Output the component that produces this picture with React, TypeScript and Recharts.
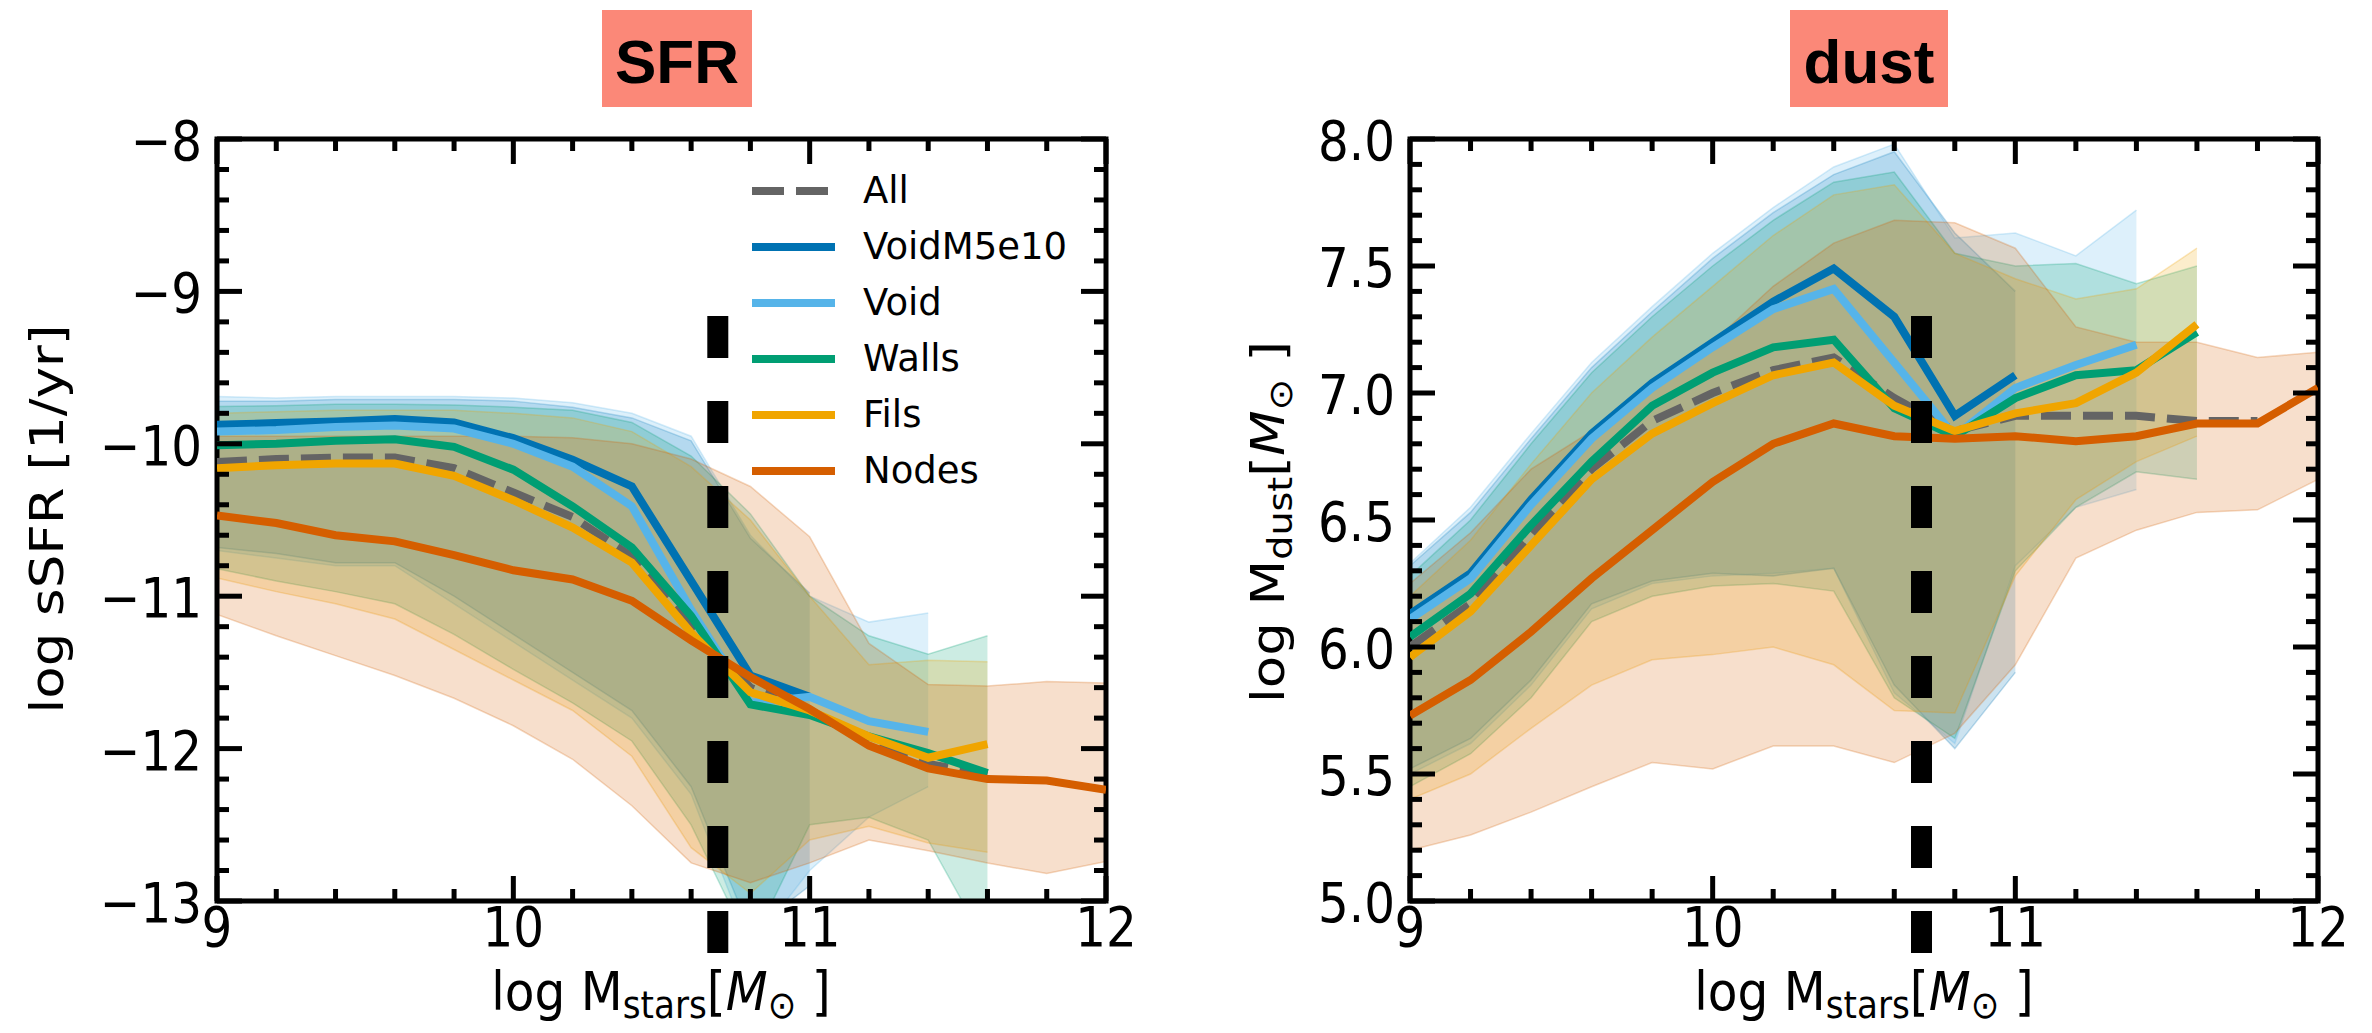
import { ComposedChart, Area, Line, XAxis, YAxis, ReferenceLine, ReferenceArea } from 'recharts';

// stellar mass bins, log M_stars
const massBins = [9.0, 9.2, 9.4, 9.6, 9.8, 10.0, 10.2, 10.4, 10.6, 10.8, 11.0, 11.2, 11.4, 11.6, 11.8, 12.0];
const massMajors = [9, 10, 11, 12];
const massLabels = ['9', '10', '11', '12'];
const massCut = 10.69; // log(5e10)

const seriesNames = ['All', 'VoidM5e10', 'Void', 'Walls', 'Fils', 'Nodes'];
const seriesKeys = ['all', 'voidM', 'void', 'walls', 'fils', 'nodes'];
const seriesColors = ['#646464', '#0072B2', '#56B4E9', '#009E73', '#F0A500', '#D55E00'];

// --- sSFR panel, medians
const sfrAll = [-10.12, -10.1, -10.09, -10.09, -10.16, -10.32, -10.48, -10.74, -11.2, -11.6, -11.75, -11.95, -12.1, -12.17, null, null];
const sfrVoidM = [-9.875, -9.864, -9.853, -9.838, -9.86, -9.963, -10.105, -10.28, -10.9, -11.52, -11.66, null, null, null, null, null];
const sfrVoid = [-9.92, -9.91, -9.89, -9.88, -9.9, -10.0, -10.15, -10.41, -11.09, -11.7, -11.66, -11.82, -11.89, null, null, null];
const sfrWalls = [-10.01, -10.0, -9.98, -9.97, -10.02, -10.17, -10.41, -10.68, -11.13, -11.71, -11.78, -11.92, -12.03, -12.16, null, null];
const sfrFils = [-10.16, -10.14, -10.13, -10.13, -10.21, -10.37, -10.55, -10.78, -11.24, -11.63, -11.75, -11.92, -12.06, -11.97, null, null];
const sfrNodes = [-10.47, -10.52, -10.6, -10.64, -10.73, -10.83, -10.89, -11.03, -11.29, -11.53, -11.74, -11.98, -12.13, -12.2, -12.21, -12.27];

// sSFR panel, spread (low / high)
const sfrVoidMLo = [-10.68, -10.72, -10.78, -10.78, -11.0, -11.25, -11.5, -11.75, -12.25, -13.2, -12.9, null, null, null, null, null];
const sfrVoidMHi = [-9.72, -9.72, -9.71, -9.71, -9.71, -9.72, -9.76, -9.83, -9.98, -10.62, -10.98, null, null, null, null, null];
const sfrVoidLo = [-10.7, -10.75, -10.8, -10.8, -11.05, -11.3, -11.55, -11.8, -12.3, -13.3, -12.8, -12.45, -12.25, null, null, null];
const sfrVoidHi = [-9.69, -9.7, -9.69, -9.69, -9.69, -9.7, -9.73, -9.8, -9.95, -10.6, -11.0, -11.17, -11.11, null, null, null];
const sfrWallsLo = [-10.82, -10.9, -10.97, -11.05, -11.25, -11.48, -11.7, -11.95, -12.5, -13.3, -12.5, -12.45, -12.6, -13.3, null, null];
const sfrWallsHi = [-9.755, -9.75, -9.74, -9.74, -9.745, -9.76, -9.78, -9.86, -10.08, -10.46, -11.0, -11.26, -11.38, -11.26, null, null];
const sfrFilsLo = [-10.88, -10.97, -11.05, -11.15, -11.35, -11.55, -11.75, -12.05, -12.65, -12.95, -12.6, -12.51, -12.62, -12.68, null, null];
const sfrFilsHi = [-9.8, -9.79, -9.78, -9.78, -9.78, -9.8, -9.83, -9.92, -10.15, -10.5, -11.0, -11.45, -11.42, -11.43, null, null];
const sfrNodesLo = [-11.12, -11.26, -11.39, -11.52, -11.67, -11.85, -12.07, -12.375, -12.75, -12.88, -12.75, -12.6, -12.67, -12.75, -12.82, -12.74];
const sfrNodesHi = [-9.95, -9.95, -9.95, -9.95, -9.95, -9.95, -9.96, -10.0, -10.1, -10.28, -10.61, -11.31, -11.58, -11.59, -11.56, -11.57];

const sfrMajors = [-13, -12, -11, -10, -9, -8];
const sfrLabels = ['\u221213', '\u221212', '\u221211', '\u221210', '\u22129', '\u22128'];
const sfrCutSpan = [-9.161, -13.361];

// --- dust panel, medians
const dustAll = [6.0, 6.17, 6.44, 6.7, 6.89, 7.0, 7.09, 7.14, 6.98, 6.85, 6.91, 6.91, 6.91, 6.89, 6.89, null];
const dustVoidM = [6.13, 6.29, 6.58, 6.84, 7.04, 7.2, 7.36, 7.49, 7.3, 6.91, 7.07, null, null, null, null, null];
const dustVoid = [6.11, 6.27, 6.56, 6.82, 7.02, 7.18, 7.33, 7.41, 7.12, 6.83, 7.02, 7.11, 7.19, null, null, null];
const dustWalls = [6.04, 6.21, 6.48, 6.73, 6.95, 7.08, 7.18, 7.21, 6.94, 6.83, 6.98, 7.07, 7.09, 7.24, null, null];
const dustFils = [5.96, 6.14, 6.4, 6.66, 6.84, 6.96, 7.07, 7.12, 6.95, 6.85, 6.92, 6.96, 7.08, 7.27, null, null];
const dustNodes = [5.73, 5.87, 6.06, 6.27, 6.46, 6.65, 6.8, 6.88, 6.83, 6.82, 6.83, 6.81, 6.83, 6.88, 6.88, 7.02];

// dust panel, spread (low / high)
const dustVoidMLo = [5.52, 5.64, 5.87, 6.17, 6.26, 6.29, 6.28, 6.31, 5.85, 5.6, 5.9, null, null, null, null, null];
const dustVoidMHi = [6.32, 6.53, 6.82, 7.1, 7.32, 7.53, 7.71, 7.86, 7.95, 7.63, 7.4, null, null, null, null, null];
const dustVoidLo = [5.5, 5.62, 5.85, 6.15, 6.25, 6.28, 6.29, 6.31, 5.82, 5.62, 6.32, 6.55, 6.62, null, null, null];
const dustVoidHi = [6.33, 6.55, 6.84, 7.12, 7.34, 7.55, 7.73, 7.89, 7.98, 7.61, 7.63, 7.54, 7.72, null, null, null];
const dustWallsLo = [5.45, 5.58, 5.8, 6.1, 6.2, 6.24, 6.25, 6.22, 5.8, 5.64, 6.3, 6.55, 6.69, 6.66, null, null];
const dustWallsHi = [6.28, 6.5, 6.8, 7.08, 7.3, 7.5, 7.68, 7.83, 7.87, 7.55, 7.5, 7.51, 7.43, 7.5, null, null];
const dustFilsLo = [5.4, 5.5, 5.68, 5.85, 5.95, 5.97, 6.0, 5.93, 5.75, 5.74, 6.28, 6.58, 6.73, 6.83, null, null];
const dustFilsHi = [6.2, 6.42, 6.72, 7.0, 7.22, 7.42, 7.62, 7.78, 7.82, 7.55, 7.45, 7.37, 7.41, 7.57, null, null];
const dustNodesLo = [5.2, 5.26, 5.35, 5.45, 5.545, 5.52, 5.61, 5.61, 5.545, 5.66, 5.93, 6.35, 6.46, 6.53, 6.54, 6.66];
const dustNodesHi = [6.25, 6.45, 6.7, 6.85, 7.02, 7.2, 7.42, 7.59, 7.68, 7.67, 7.57, 7.26, 7.2, 7.2, 7.14, 7.16];

const dustMajors = [5, 5.5, 6, 6.5, 7, 7.5, 8];
const dustLabels = ['5.0', '5.5', '6.0', '6.5', '7.0', '7.5', '8.0'];
const dustCutSpan = [7.303, 4.783];

const steps = (a: number, b: number, d: number) =>
  Array.from({ length: Math.round((b - a) / d) + 1 }, (_, i) => Number((a + i * d).toFixed(3)));

function buildRows(med: any[], lo: any[], hi: any[]) {
  return massBins.map((x, i) => {
    const row: any = { x };
    seriesKeys.forEach((k, s) => {
      if (med[s][i] != null) row[k] = med[s][i];
      if (lo[s] && lo[s][i] != null && hi[s][i] != null) row[k + 'Band'] = [lo[s][i], hi[s][i]];
    });
    return row;
  });
}

const sfrRows = buildRows(
  [sfrAll, sfrVoidM, sfrVoid, sfrWalls, sfrFils, sfrNodes],
  [null, sfrVoidMLo, sfrVoidLo, sfrWallsLo, sfrFilsLo, sfrNodesLo],
  [null, sfrVoidMHi, sfrVoidHi, sfrWallsHi, sfrFilsHi, sfrNodesHi]
);
const dustRows = buildRows(
  [dustAll, dustVoidM, dustVoid, dustWalls, dustFils, dustNodes],
  [null, dustVoidMLo, dustVoidLo, dustWallsLo, dustFilsLo, dustNodesLo],
  [null, dustVoidMHi, dustVoidHi, dustWallsHi, dustFilsHi, dustNodesHi]
);

const FONT = 'DejaVu Sans, sans-serif';
const SQUEEZE = 0.88;
const TOP = 139;
const BOTTOM = 901;
const CHART_W = 1186;
const CHART_H = 1033;
const LINE_W = 8;

const findMajor = (v: number, majors: number[]) => majors.findIndex((m) => Math.abs(m - v) < 1e-6);

function makeXTick(plotH: number) {
  return (p: any) => {
    const i = findMajor(p.payload.value, massMajors);
    const len = i >= 0 ? 25 : 12;
    return (
      <g>
        <line x1={p.x} x2={p.x} y1={p.y} y2={p.y - len} stroke="#000" strokeWidth={5} />
        <line x1={p.x} x2={p.x} y1={p.y - plotH} y2={p.y - plotH + len} stroke="#000" strokeWidth={5} />
        {i >= 0 && (
          <text transform={`translate(${p.x},${p.y + 45}) scale(${SQUEEZE},1)`} textAnchor="middle" fontSize={55} fontFamily={FONT} fill="#000">
            {massLabels[i]}
          </text>
        )}
      </g>
    );
  };
}

function makeYTick(plotW: number, majors: number[], labels: string[]) {
  return (p: any) => {
    const i = findMajor(p.payload.value, majors);
    const len = i >= 0 ? 25 : 12;
    return (
      <g>
        <line x1={p.x} x2={p.x + len} y1={p.y} y2={p.y} stroke="#000" strokeWidth={5} />
        <line x1={p.x + plotW} x2={p.x + plotW - len} y1={p.y} y2={p.y} stroke="#000" strokeWidth={5} />
        {i >= 0 && (
          <text transform={`translate(${p.x - 15},${p.y + 21}) scale(${SQUEEZE},1)`} textAnchor="end" fontSize={55} fontFamily={FONT} fill="#000">
            {labels[i]}
          </text>
        )}
      </g>
    );
  };
}

function Panel(props: any) {
  const { rows, left, plotLeft, plotRight, yDomain, yTicks, yMajors, yLabels, cutSpan } = props;
  const plotW = plotRight - plotLeft;
  const plotH = BOTTOM - TOP;
  return (
    <div style={{ position: 'absolute', left, top: 0 }}>
      <ComposedChart
        width={CHART_W}
        height={CHART_H}
        data={rows}
        margin={{ top: TOP, bottom: CHART_H - BOTTOM - 60, left: plotLeft - left - 100, right: CHART_W - (plotRight - left) }}
      >
        <XAxis
          type="number" dataKey="x" domain={[9, 12]} allowDataOverflow ticks={steps(9, 12, 0.2)} interval={0}
          height={60} tickSize={0} tickMargin={0} tickLine={false} axisLine={false} tick={makeXTick(plotH)}
        />
        <YAxis
          type="number" domain={yDomain} allowDataOverflow ticks={yTicks} interval={0}
          width={100} tickSize={0} tickMargin={0} tickLine={false} axisLine={false} tick={makeYTick(plotW, yMajors, yLabels)}
        />
        {seriesKeys.slice(1).map((k, s) => (
          <Area
            key={k + 'Band'} type="linear" dataKey={k + 'Band'} fill={seriesColors[s + 1]} fillOpacity={0.2}
            stroke={seriesColors[s + 1]} strokeOpacity={0.25} strokeWidth={1.5}
            dot={false} activeDot={false} legendType="none" isAnimationActive={false}
          />
        ))}
        {seriesKeys.map((k, s) => (
          <Line
            key={k} type="linear" dataKey={k} stroke={seriesColors[s]} strokeWidth={LINE_W}
            strokeDasharray={s === 0 ? '30 12' : undefined}
            dot={false} activeDot={false} isAnimationActive={false}
          />
        ))}
        <ReferenceLine
          segment={[{ x: massCut, y: cutSpan[0] }, { x: massCut, y: cutSpan[1] }]}
          stroke="#000" strokeWidth={21} strokeDasharray="42 43" ifOverflow="visible"
        />
        <ReferenceArea x1={9} x2={12} y1={yDomain[0]} y2={yDomain[1]} fill="none" stroke="#000" strokeWidth={5} ifOverflow="visible" />
      </ComposedChart>
    </div>
  );
}

function LegendBox() {
  return (
    <div style={{ position: 'absolute', left: 752, top: 163, fontFamily: FONT, fontSize: 37, color: '#000' }}>
      {seriesNames.map((n, s) => (
        <div key={n} style={{ display: 'flex', alignItems: 'center', height: 56 }}>
          <svg width={83} height={56}>
            <line x1={0} x2={83} y1={28} y2={28} stroke={seriesColors[s]} strokeWidth={LINE_W} strokeDasharray={s === 0 ? '32 12' : undefined} />
          </svg>
          <span style={{ marginLeft: 28, lineHeight: '56px' }}>{n}</span>
        </div>
      ))}
    </div>
  );
}

function Labels() {
  const sub = { fontSize: 38 };
  return (
    <svg width={2372} height={1033} style={{ position: 'absolute', left: 0, top: 0, pointerEvents: 'none' }}>
      <rect x={602} y={10} width={150} height={97} fill="#FB8878" />
      <text x={677} y={83} textAnchor="middle" fontSize={62} fontWeight={700} fontFamily="Liberation Sans, Arial, sans-serif">SFR</text>
      <rect x={1790} y={10} width={158} height={97} fill="#FB8878" />
      <text x={1869} y={83} textAnchor="middle" fontSize={62} fontWeight={700} fontFamily="Liberation Sans, Arial, sans-serif">dust</text>

      <text transform="translate(63,519) rotate(-90) scale(1,0.87)" textAnchor="middle" fontSize={53} fontFamily={FONT}>
        log sSFR [1/yr]
      </text>
      <text transform="translate(1284,522) rotate(-90) scale(1,0.87)" textAnchor="middle" fontSize={53} fontFamily={FONT}>
        log M<tspan {...sub} dy={9}>dust</tspan>
        <tspan dy={-9}>[</tspan>
        <tspan fontStyle="italic">M</tspan>
        <tspan {...sub} dy={9}>{'\u2299'}</tspan>
        <tspan dy={-9}> ]</tspan>
      </text>

      {[661, 1864].map((cx) => (
        <text key={cx} transform={`translate(${cx},1010) scale(0.9,1)`} textAnchor="middle" fontSize={54} fontFamily={FONT}>
          log M<tspan {...sub} dy={8}>stars</tspan>
          <tspan dy={-8}>[</tspan>
          <tspan fontStyle="italic">M</tspan>
          <tspan {...sub} dy={8}>{'\u2299'}</tspan>
          <tspan dy={-8}> ]</tspan>
        </text>
      ))}
    </svg>
  );
}

export default function App() {
  return (
    <div style={{ position: 'absolute', left: 0, top: 0, width: 2372, height: 1033, background: '#fff', overflow: 'hidden' }}>
      <Panel
        rows={sfrRows} left={0} plotLeft={217} plotRight={1106}
        yDomain={[-13, -8]} yTicks={steps(-13, -8, 0.2)} yMajors={sfrMajors} yLabels={sfrLabels} cutSpan={sfrCutSpan}
      />
      <Panel
        rows={dustRows} left={1186} plotLeft={1410} plotRight={2318}
        yDomain={[5, 8]} yTicks={steps(5, 8, 0.1)} yMajors={dustMajors} yLabels={dustLabels} cutSpan={dustCutSpan}
      />
      <LegendBox />
      <Labels />
    </div>
  );
}
